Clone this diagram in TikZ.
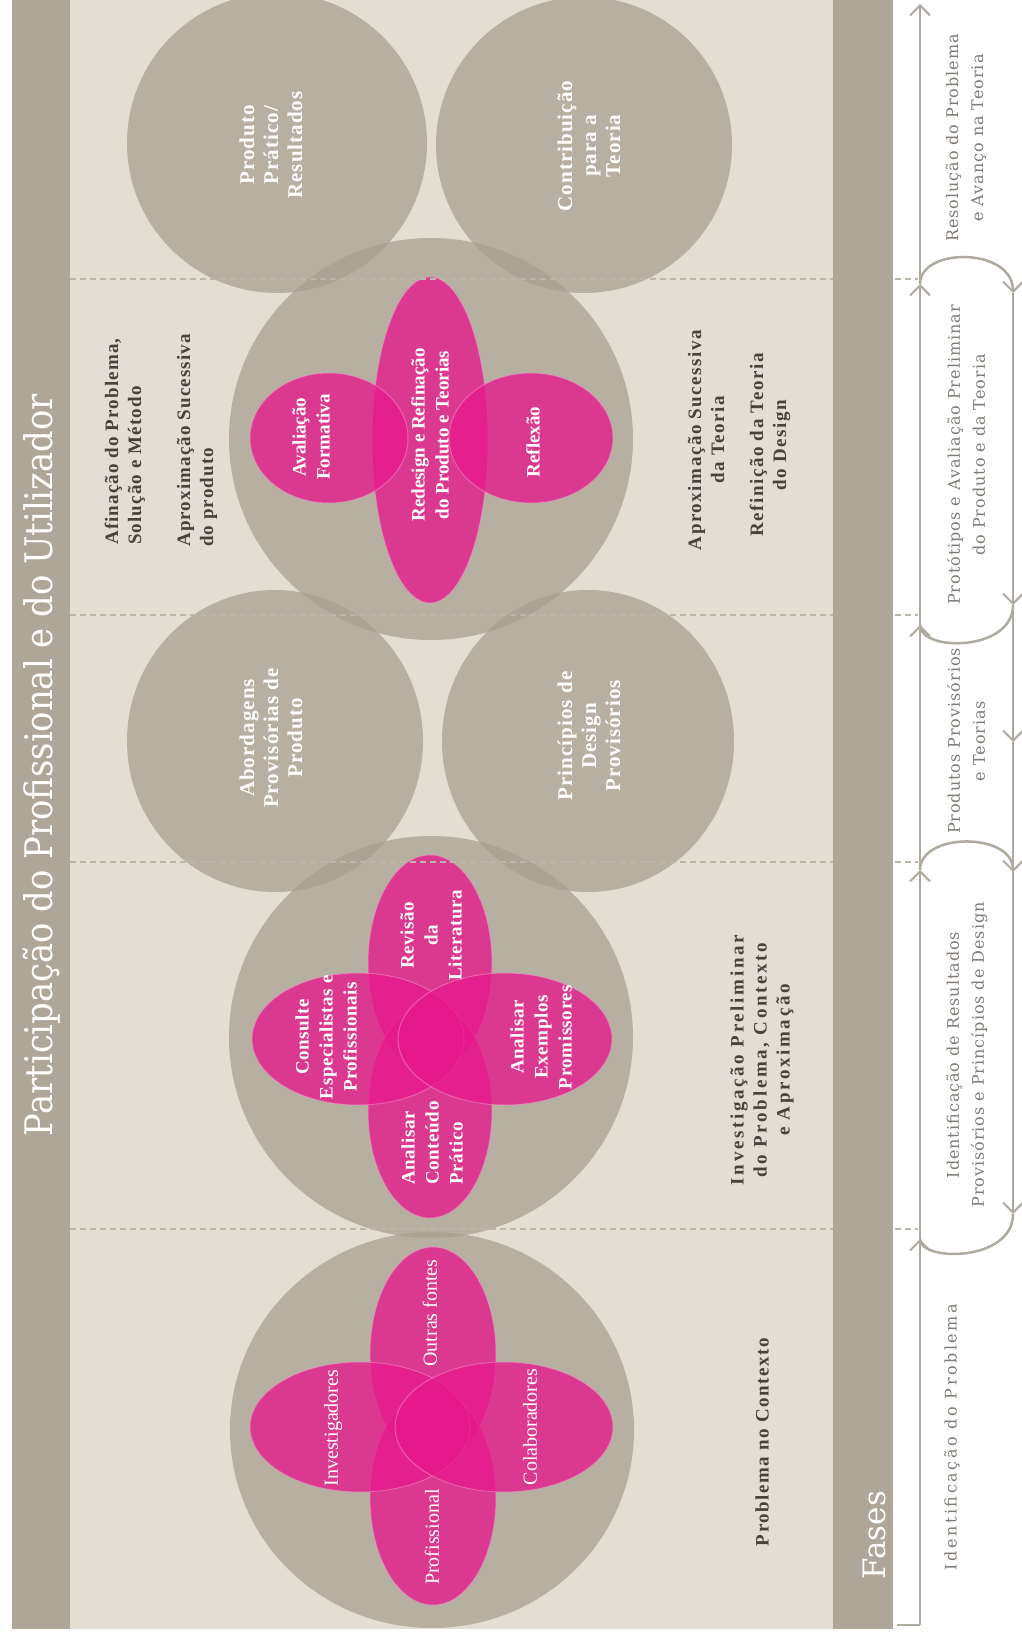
\documentclass[tikz,border=0pt]{standalone}
\usepackage{fontspec}
\setmainfont{Liberation Serif}
\newfontfamily\slabtitle{DejaVu Serif}
\newfontfamily\slabwide[LetterSpace=6]{DejaVu Serif}
\newfontfamily\slabwider[LetterSpace=16]{DejaVu Serif}
\newfontfamily\boldwide[LetterSpace=8]{Liberation Serif}
\newfontfamily\boldmid[LetterSpace=6]{Liberation Serif}
\newfontfamily\boldwidest[LetterSpace=14]{Liberation Serif}
\newfontfamily\boldslight[LetterSpace=5]{Liberation Serif}
\newfontfamily\boldtiny[LetterSpace=3]{Liberation Serif}
\usetikzlibrary{arrows.meta}

\definecolor{bandgrey}{RGB}{173,166,153}
\definecolor{paper}{RGB}{226,222,211}
\definecolor{blobgrey}{RGB}{168,160,146}
\definecolor{petal}{RGB}{230,25,138}
\definecolor{inktext}{RGB}{72,66,60}
\definecolor{phasetext}{RGB}{128,123,116}
\definecolor{flowgrey}{RGB}{175,170,160}
\definecolor{dashgrey}{RGB}{188,182,170}

\tikzset{
	blob/.style={fill=blobgrey, fill opacity=0.75},
	petalfill/.style={fill=petal, fill opacity=0.78, draw=petal!45!white, draw opacity=0.5, line width=1pt},
	inlabel/.style={rotate=90, text=white, align=center, inner sep=0pt, font=\bfseries\fontsize{19}{24}\selectfont},
	bloblabel/.style={inlabel, font=\boldslight\bfseries\fontsize{21}{24}\selectfont},
	outlabel/.style={rotate=90, text=inktext, inner sep=0pt, font=\boldwide\bfseries\fontsize{19}{23}\selectfont},
	phaselabel/.style={rotate=90, text=phasetext, align=center, inner sep=0pt, font=\slabwide\fontsize{16}{25}\selectfont},
	divider/.style={dashgrey, line width=2pt, dash pattern=on 6pt off 4pt},
	flowline/.style={flowgrey, line width=2.5pt},
	flow/.style={flowline, -{Straight Barb[length=10pt,width=20pt,line width=2pt]}},
}

\begin{document}
\begin{tikzpicture}[x=1pt,y=-1pt]
	%%%%% START %%%%%
	\useasboundingbox (0,0) rectangle (1021,1637);
	\fill[white] (0,0) rectangle (1021,1637);
	\fill[paper] (70,0) rectangle (833,1629);
	\fill[bandgrey] (12,0) rectangle (70,1629);
	\fill[bandgrey] (833,0) rectangle (893,1629);
	
	% grey circles
	\fill[blob] (277,143) ellipse (150 and 150);
	\fill[blob] (584,145) ellipse (148 and 148);
	\fill[blob] (431,439) ellipse (202 and 201);
	\fill[blob] (275,741) ellipse (148 and 151);
	\fill[blob] (588,741) ellipse (146 and 151);
	\fill[blob] (431,1037) ellipse (202 and 201);
	\fill[blob] (432,1430) ellipse (202 and 198);
	
	% petals
	\fill[petalfill] (430,440) ellipse (58 and 163);
	\fill[petalfill] (329,438) ellipse (79 and 65);
	\fill[petalfill] (531,438) ellipse (82 and 65);
	
	\fill[petalfill] (430,963) ellipse (62 and 108);
	\fill[petalfill] (430,1111) ellipse (62 and 107);
	\fill[petalfill] (358,1039) ellipse (106 and 66);
	\fill[petalfill] (505,1039) ellipse (107 and 66);
	
	\fill[petalfill] (433,1354) ellipse (63 and 107);
	\fill[petalfill] (433,1498) ellipse (63 and 107);
	\fill[petalfill] (360,1427) ellipse (110 and 65);
	\fill[petalfill] (504,1427) ellipse (109 and 65);
	
	% phase dividers
	\foreach \yb in {279,615,862,1229}{
		\draw[divider] (70,\yb) -- (833,\yb);
		\draw[divider] (895,\yb) -- (918,\yb);
	}
	
	% title band
	\node[rotate=90, text=white, inner sep=0pt, font=\slabtitle\fontsize{38}{40}\selectfont] (titulo) at (42,765) {\scalebox{0.89}[1]{Participação do Profissional e do Utilizador}};
	\node[rotate=90, text=white, inner sep=0pt, font=\slabtitle\fontsize{31}{33}\selectfont] (fases) at (874,1535) {Fases};
	
	% labels in the circles
	\node[bloblabel] (produto) at (271,145) {Produto\\Prático/\\Resultados};
	\node[bloblabel] (contributo) at (589,146) {Contribuição\\para a\\Teoria};
	\node[bloblabel] (abordagens) at (271,738) {Abordagens\\Provisórias de\\Produto};
	\node[bloblabel] (principios) at (589,736) {Princípios de\\Design\\Provisórios};
	
	\node[inlabel] (avaliacao) at (311,437) {Avaliação\\Formativa};
	\node[inlabel] (redesign) at (430,435) {Redesign e Refinação\\do Produto e Teorias};
	\node[inlabel] (reflexao) at (533,442) {Reflexão};
	
	\node[inlabel, font=\boldtiny\bfseries\fontsize{19}{24}\selectfont] (revisao) at (431,935) {Revisão\\da\\Literatura};
	\node[inlabel, font=\boldtiny\bfseries\fontsize{19}{24}\selectfont] (consulte) at (326,1037) {Consulte\\Especialistas e\\Profissionais};
	\node[inlabel, font=\boldtiny\bfseries\fontsize{19}{24}\selectfont] (exemplos) at (541,1037) {Analisar\\Exemplos\\Promissores};
	\node[inlabel, font=\boldtiny\bfseries\fontsize{19}{24}\selectfont, align=left] (conteudo) at (432,1143) {Analisar\\Conteúdo\\Prático};
	
	\node[inlabel, font=\fontsize{20}{24}\selectfont] (outras) at (430,1313) {Outras fontes};
	\node[inlabel, font=\fontsize{20}{24}\selectfont] (investigadores) at (333,1428) {Investigadores};
	\node[inlabel, font=\fontsize{20}{24}\selectfont] (colaboradores) at (530,1427) {Colaboradores};
	\node[inlabel, font=\fontsize{20}{24}\selectfont] (profissional) at (432,1537) {Profissional};
	
	% labels beside the circles
	\node[outlabel, font=\boldmid\bfseries\fontsize{19}{23}\selectfont, anchor=west, align=left] (afinacao) at (125,545) {Afinação do Problema,\\Solução e Método};
	\node[outlabel, font=\boldmid\bfseries\fontsize{19}{23}\selectfont, anchor=west, align=left] (aproxproduto) at (197,547) {Aproximação Sucessiva\\do produto};
	\node[outlabel, align=center] (aproxteoria) at (706,440) {Aproximação Sucessiva\\da Teoria};
	\node[outlabel, align=center] (refinicao) at (770,445) {Refinição da Teoria\\do Design};
	\node[outlabel, font=\boldwidest\bfseries\fontsize{19}{23}\selectfont, align=center] (investigacao) at (762,1060) {Investigação Preliminar\\do Problema, Contexto\\e Aproximação};
	\node[outlabel] (contexto) at (762,1442) {Problema no Contexto};
	
	% phases
	\node[phaselabel] (resolucao) at (966,138) {Resolução do Problema\\e Avanço na Teoria};
	\node[phaselabel] (prototipos) at (966,455) {Protótipos e Avaliação Preliminar\\do Produto e da Teoria};
	\node[phaselabel] (provisorios) at (966,741) {Produtos Provisórios\\e Teorias};
	\node[phaselabel] (resultados) at (967,1055) {Identificação de Resultados\\Provisórios e Princípios de Design};
	\node[phaselabel, font=\slabwider\fontsize{16}{25}\selectfont] (identificacao) at (952,1437) {Identificação do Problema};
	
	% flow along the phases
	\coordinate (foot) at (897,1625);
	\coordinate (base) at (920,1625);
	\coordinate (up4) at (920,1239);
	\coordinate (up3) at (920,870);
	\coordinate (up2) at (920,625);
	\coordinate (up1) at (920,284);
	\coordinate (up0) at (920,4);
	\coordinate (dn1) at (1013,293);
	\coordinate (dn2) at (1013,605);
	\coordinate (dnmid) at (1013,742);
	\coordinate (dn3) at (1013,872);
	\coordinate (dn4) at (1013,1214);
	
	\draw[flowline] (foot) -- (base);
	\draw[flow] (base) -- (up4);
	\draw[flow] (up4) -- (up3);
	\draw[flow] (up3) -- (up2);
	\draw[flow] (up2) -- (up1);
	\draw[flow] (up1) -- (up0);
	
	\draw[flow] (up1) .. controls (920,247) and (1013,247) .. (dn1);
	\draw[flow] (dn1) -- (dn2);
	\draw[flowline] (dn2) .. controls (1013,652) and (920,652) .. (up2);
	\draw[flow] (dn2) -- (dnmid);
	\draw[flow] (dnmid) -- (dn4);
	\draw[flow] (up3) .. controls (920,832) and (1013,832) .. (dn3);
	\draw[flowline] (dn4) .. controls (1013,1262) and (920,1262) .. (up4);
	
	%%%%% END %%%%%
\end{tikzpicture}
\end{document}
